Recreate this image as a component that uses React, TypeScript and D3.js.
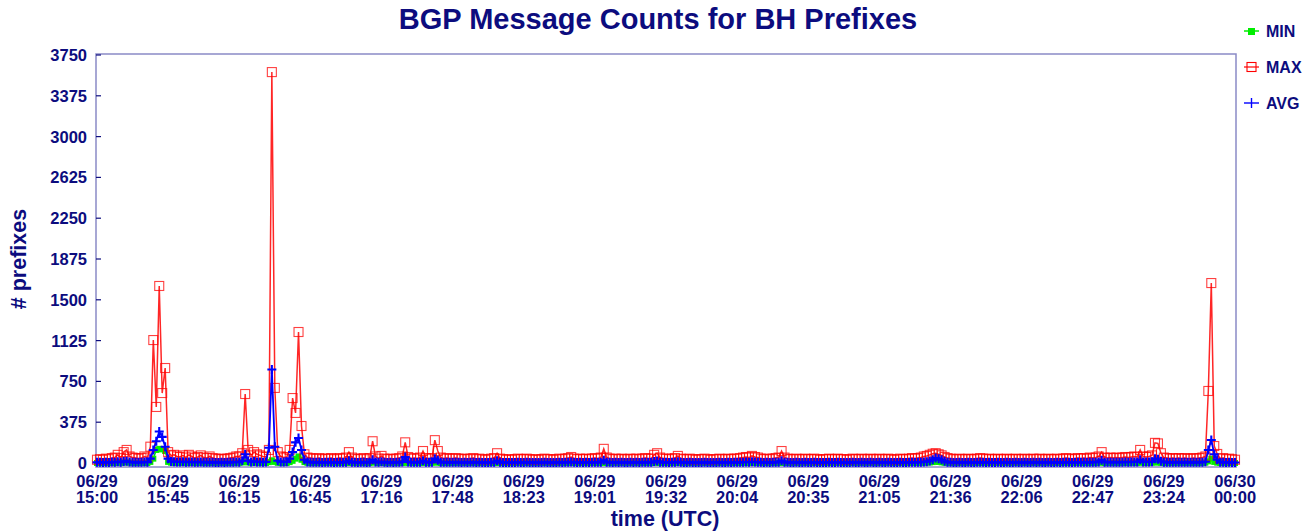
import React from "react";
import * as d3 from "d3";

// one row = one tick interval (24 samples), last row = final sample
const maxSeries: number[] = [
  30,35,30,40,35,45,50,75,45,100,120,60,50,45,40,45,60,50,150,1130,515,1627,643,873,
  100,70,75,60,55,70,50,75,60,45,55,70,50,45,60,45,40,35,40,35,40,45,50,60,
  60,90,634,120,70,100,80,70,60,55,120,3593,690,100,60,50,55,120,597,460,1204,340,80,50,
  45,40,40,45,35,40,40,45,35,40,45,40,50,100,50,40,35,40,45,35,45,200,60,40,
  65,40,35,40,35,40,45,60,190,55,40,45,40,50,110,45,40,45,210,110,50,40,45,40,
  40,45,40,35,40,35,40,45,35,40,35,30,35,40,45,90,40,35,30,35,30,35,40,35,
  35,40,35,30,35,30,35,40,35,35,30,35,40,35,40,45,55,40,35,40,35,40,35,40,
  45,40,50,130,50,40,35,40,35,40,35,35,40,35,40,35,40,45,40,40,75,90,50,40,
  40,35,40,45,65,40,35,35,40,35,30,35,35,40,35,30,35,35,40,35,35,40,35,40,
  40,45,50,55,50,65,55,50,40,35,40,35,40,45,50,110,50,40,35,35,40,35,35,40,
  35,35,40,35,30,35,35,40,35,35,40,35,35,30,35,40,35,35,40,35,35,40,35,35,
  40,35,35,40,35,30,35,40,35,35,40,45,40,45,50,60,65,75,85,90,80,70,55,45,
  40,35,35,40,35,35,40,35,35,40,45,40,35,40,35,35,40,35,35,40,35,35,40,35,
  35,40,35,35,40,35,40,35,35,40,35,35,40,35,40,45,40,35,40,45,40,45,40,50,
  45,50,60,100,50,45,50,45,50,45,50,55,50,55,60,55,120,60,55,60,70,185,180,90,
  50,45,40,45,40,45,40,45,40,40,45,40,45,50,60,662,1654,156,83,40,45,35,40,35,
  30,
];

const avgSeries: number[] = [
  6,8,5,7,5,9,7,12,8,14,16,9,7,6,6,8,9,7,40,120,200,290,240,150,
  40,14,12,10,9,12,8,10,9,7,8,10,7,6,8,6,5,5,6,5,6,7,8,9,
  8,20,80,20,10,14,10,9,8,10,140,860,150,20,10,9,12,40,100,190,230,120,30,10,
  8,6,6,7,5,6,6,7,5,6,7,6,8,20,8,6,5,6,7,5,8,30,10,6,
  12,6,5,6,5,6,7,10,55,10,6,7,6,8,20,7,6,7,40,25,8,6,7,6,
  6,7,6,5,6,5,6,7,5,6,5,4,5,6,7,20,6,5,4,5,4,5,6,5,
  5,6,5,4,5,4,5,6,5,5,4,5,6,5,6,7,10,6,5,6,5,6,5,6,
  7,6,8,25,8,6,5,6,5,6,5,5,6,5,6,5,6,7,6,6,14,18,8,6,
  6,5,6,7,12,6,5,5,6,5,4,5,5,6,5,4,5,5,6,5,5,6,5,6,
  6,7,8,9,8,12,9,8,6,5,6,5,6,7,8,20,8,6,5,5,6,5,5,6,
  5,5,6,5,4,5,5,6,5,5,6,5,5,4,5,6,5,5,6,5,5,6,5,5,
  6,5,5,6,5,4,5,6,5,5,6,7,6,7,8,10,12,18,30,45,40,30,15,8,
  6,5,5,6,5,5,6,5,5,6,7,6,5,6,5,5,6,5,5,6,5,5,6,5,
  5,6,5,5,6,5,6,5,5,6,5,5,6,5,6,7,6,5,6,7,6,7,6,8,
  7,8,10,25,8,7,8,7,8,7,8,9,8,9,10,9,30,10,9,10,12,40,35,16,
  8,7,6,7,6,7,6,7,6,6,7,6,7,8,12,120,211,80,30,8,7,5,6,5,
  4,
];

const minSeries: number[] = [
  0,2,0,3,0,2,0,4,2,5,6,3,2,0,0,2,3,0,10,40,120,130,125,110,
  10,3,2,0,3,0,2,0,0,3,0,2,0,0,2,0,3,0,2,0,0,2,0,3,
  2,5,15,5,2,4,2,0,2,0,8,25,10,2,0,2,0,8,20,40,60,30,8,2,
  0,2,0,0,3,0,0,2,0,0,2,0,0,5,0,0,2,0,0,2,0,8,3,0,
  3,0,2,0,0,2,0,0,6,0,0,2,0,0,4,0,0,2,6,4,0,0,2,0,
  0,2,0,0,0,2,0,0,0,2,0,0,0,2,0,4,0,0,0,2,0,0,0,2,
  0,0,2,0,0,0,2,0,0,0,2,0,0,0,2,0,3,0,0,2,0,0,0,2,
  0,2,0,5,0,0,2,0,0,0,2,0,0,0,2,0,0,2,0,0,3,4,0,0,
  2,0,0,0,3,0,0,2,0,0,0,2,0,0,0,2,0,0,0,2,0,0,0,2,
  0,2,0,0,2,3,0,0,2,0,0,0,2,0,0,4,0,0,2,0,0,0,2,0,
  0,0,2,0,0,0,2,0,0,0,2,0,0,0,2,0,0,0,2,0,0,0,2,0,
  0,2,0,0,0,2,0,0,0,2,0,0,2,0,2,3,4,5,8,12,10,6,3,2,
  0,2,0,0,0,2,0,0,0,2,0,0,0,2,0,0,0,2,0,0,0,2,0,0,
  2,0,0,0,2,0,0,0,2,0,0,0,2,0,0,2,0,0,2,0,3,0,2,0,
  2,0,3,5,0,2,0,0,2,0,2,0,0,2,3,0,5,2,0,2,3,6,5,2,
  0,0,2,0,0,0,2,0,0,0,2,0,0,2,3,15,40,10,3,0,2,0,0,2,
  0,
];

const tickDates: string[] = [
  "06/29","06/29","06/29","06/29","06/29","06/29","06/29","06/29","06/29",
  "06/29","06/29","06/29","06/29","06/29","06/29","06/29","06/30",
];
const tickTimes: string[] = [
  "15:00","15:45","16:15","16:45","17:16","17:48","18:23","19:01","19:32",
  "20:04","20:35","21:05","21:36","22:06","22:47","23:24","00:00",
];
const yTicks: number[] = [0, 375, 750, 1125, 1500, 1875, 2250, 2625, 3000, 3375, 3750];

const TICK_STEP = 24;
const W = 1312;
const H = 531;
const L = 96, R = 1236, T = 54, B = 467;
const NAVY = "#0c0c7e";
const FONT = "'Liberation Sans', Arial, Helvetica, sans-serif";

export default function App() {
  const n = Math.min(maxSeries.length, avgSeries.length, minSeries.length);
  const idx = d3.range(n);
  const x = d3.scaleLinear().domain([0, TICK_STEP * 16]).range([97, 1235]);
  const y = d3.scaleLinear().domain([0, 3750]).range([463, 55]);

  const line = (arr: number[]) =>
    d3.line<number>().x((i) => x(i)).y((i) => y(arr[i]))(idx) || "";

  const sq = 4.5;
  const gs = 3;
  const pl = 4.5;

  return (
    <svg width={W} height={H} style={{ position: "absolute", left: 0, top: 0 }} fontFamily={FONT}>
      <rect x={0} y={0} width={W} height={H} fill="#fff" />
      <text x={658} y={29} textAnchor="middle" fontSize={29} fontWeight="bold" fill={NAVY}>
        BGP Message Counts for BH Prefixes
      </text>
      <rect x={L} y={T} width={R - L} height={B - T} fill="none" stroke="#8a8ac6" strokeWidth={1.5} />
      {yTicks.map((v) => (
        <g key={v}>
          <line x1={L} x2={L + 5} y1={y(v)} y2={y(v)} stroke={NAVY} strokeWidth={1.2} />
          <text x={87} y={y(v) + 6} textAnchor="end" fontSize={16.5} fontWeight="bold" fill={NAVY}>
            {v}
          </text>
        </g>
      ))}
      {tickTimes.map((t, k) => {
        const xi = x(k * TICK_STEP);
        return (
          <g key={k}>
            <text x={xi} y={487} textAnchor="middle" fontSize={16.5} fontWeight="bold" fill={NAVY}>
              {tickDates[k]}
            </text>
            <text x={xi} y={503} textAnchor="middle" fontSize={16.5} fontWeight="bold" fill={NAVY}>
              {t}
            </text>
          </g>
        );
      })}
      <text x={665} y={526} textAnchor="middle" fontSize={21.5} fontWeight="bold" fill={NAVY}>
        time (UTC)
      </text>
      <text
        transform={`translate(26,259) rotate(-90)`}
        textAnchor="middle"
        fontSize={21.5}
        fontWeight="bold"
        fill={NAVY}
      >
        # prefixes
      </text>

      <path d={line(minSeries)} fill="none" stroke="#00ee00" strokeWidth={1.5} />
      {idx.map((i) => (
        <rect key={"mn" + i} x={x(i) - gs} y={y(minSeries[i]) - gs} width={gs * 2} height={gs * 2} fill="#00ee00" />
      ))}
      <path d={line(maxSeries)} fill="none" stroke="#ff0000" strokeWidth={1.5} strokeOpacity={0.85} />
      {idx.map((i) => (
        <rect
          key={"mx" + i}
          x={x(i) - sq}
          y={y(maxSeries[i]) - sq}
          width={sq * 2}
          height={sq * 2}
          fill="none"
          stroke="#ff0000"
          strokeWidth={1.1}
          strokeOpacity={0.75}
        />
      ))}
      <path d={line(avgSeries)} fill="none" stroke="#0000ff" strokeWidth={1.8} />
      {idx.map((i) => (
        <path
          key={"av" + i}
          d={`M${x(i) - pl},${y(avgSeries[i])}h${pl * 2}M${x(i)},${y(avgSeries[i]) - pl}v${pl * 2}`}
          stroke="#0000ff"
          strokeWidth={2.1}
        />
      ))}

      <g>
        <line x1={1244} x2={1259} y1={31} y2={31} stroke="#00ee00" strokeWidth={1.5} />
        <rect x={1248} y={28} width={7} height={7} fill="#00ee00" />
        <text x={1266} y={37} fontSize={16} fontWeight="bold" fill={NAVY}>MIN</text>
        <line x1={1244} x2={1259} y1={67} y2={67} stroke="#ff0000" strokeWidth={1.2} />
        <rect x={1247} y={62.5} width={9} height={9} fill="none" stroke="#ff0000" strokeWidth={1.1} />
        <text x={1266} y={73} fontSize={16} fontWeight="bold" fill={NAVY}>MAX</text>
        <line x1={1244} x2={1259} y1={103} y2={103} stroke="#0000ff" strokeWidth={1.4} />
        <line x1={1251.5} x2={1251.5} y1={98} y2={108} stroke="#0000ff" strokeWidth={1.4} />
        <text x={1266} y={109} fontSize={16} fontWeight="bold" fill={NAVY}>AVG</text>
      </g>
    </svg>
  );
}
